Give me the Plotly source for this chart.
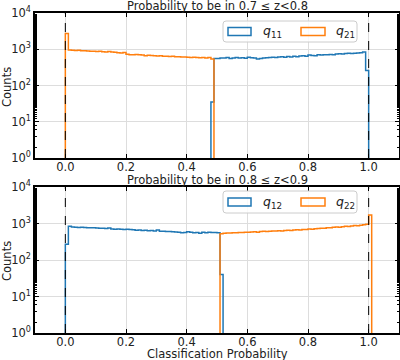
import plotly.graph_objects as go

# ---------------- data ----------------
BIN_W = 0.01
FLOOR = 0.1  # below the log axis range -> drawn off the bottom like empty bins

# top panel: 0.7 <= z < 0.8
q11_start = 0.48
q11 = [35,
       560, 555, 575, 570, 590, 560, 575, 595, 570, 580,
       565, 600, 585, 570, 540, 560, 575, 580, 590, 600,
       595, 610, 620, 605, 630, 615, 640, 620, 650, 660,
       640, 690, 670, 665, 700, 690, 710, 705, 720, 700,
       740, 750, 735, 760, 770, 765, 780, 790, 800, 840,
       260]
q21_start = 0.0
q21 = [2700, 950, 935, 925, 940, 915, 905, 900, 885, 875,
       865, 880, 855, 845, 870, 835, 820, 800, 785, 815,
       730, 700, 710, 715, 705, 690, 660, 680, 670, 665,
       655, 660, 640, 645, 635, 640, 620, 625, 610, 615,
       600, 595, 600, 590, 585, 595, 575, 590, 540]

# bottom panel: 0.8 <= z < 0.9
q12_start = 0.0
q12 = [270,
       840, 800, 790, 780, 790, 775, 770, 760, 765, 750,
       745, 740, 730, 750, 710, 700, 710, 695, 690, 700,
       680, 670, 650, 660, 640, 650, 630, 640, 620, 660,
       615, 610, 600, 605, 590, 585, 580, 560, 570, 590,
       575, 560, 570, 540, 580, 560, 575, 570, 565, 560,
       40]
q22_start = 0.51
q22 = [520, 540, 545, 550, 560, 555, 570, 565, 580, 575,
       585, 590, 580, 600, 610, 605, 615, 620, 625, 630,
       620, 640, 650, 645, 660, 670, 665, 680, 690, 710,
       700, 720, 730, 745, 740, 760, 770, 790, 800, 790,
       820, 840, 830, 860, 880, 870, 900, 920, 960,
       1700]

x_ticks = [0.0, 0.2, 0.4, 0.6, 0.8, 1.0]
x_ticklabels = ["0.0", "0.2", "0.4", "0.6", "0.8", "1.0"]
y_ticks = [1, 10, 100, 1000, 10000]
y_ticklabels = ["10<sup>0</sup>", "10<sup>1</sup>", "10<sup>2</sup>",
                "10<sup>3</sup>", "10<sup>4</sup>"]
vlines = [0.0, 1.0]

titles = ["Probability to be in 0.7 \u2264 z<0.8", "Probability to be in 0.8 \u2264 z<0.9"]
legend_top = ["<i>q</i><sub>11</sub>", "<i>q</i><sub>21</sub>"]
legend_bot = ["<i>q</i><sub>12</sub>", "<i>q</i><sub>22</sub>"]

BLUE = "#1f77b4"
ORANGE = "#ff7f0e"
FONT = "DejaVu Sans"
FS = 11.5

# ---------------- helpers ----------------
def step_xy(start, vals):
    n = len(vals)
    edges = [round(start + i * BIN_W, 6) for i in range(n + 1)]
    x = [edges[0]] + edges[:n] + [edges[n]]
    y = [FLOOR] + list(vals) + [FLOOR]
    return x, y

# pixel geometry
L, R, T, B = 35, 399, 13, 333
W, H = R - L, B - T
def px(xp):
    return (xp - L) / W
def py(yp):
    return (B - yp) / H

def rounded_rect_path(x0, y0, x1, y1, r):
    pts = [
        f"M {px(x0 + r)},{py(y0)}",
        f"L {px(x1 - r)},{py(y0)}",
        f"Q {px(x1)},{py(y0)} {px(x1)},{py(y0 + r)}",
        f"L {px(x1)},{py(y1 - r)}",
        f"Q {px(x1)},{py(y1)} {px(x1 - r)},{py(y1)}",
        f"L {px(x0 + r)},{py(y1)}",
        f"Q {px(x0)},{py(y1)} {px(x0)},{py(y1 - r)}",
        f"L {px(x0)},{py(y0 + r)}",
        f"Q {px(x0)},{py(y0)} {px(x0 + r)},{py(y0)} Z",
    ]
    return " ".join(pts)

fig = go.Figure()

for start, vals, color, xa, ya in [
    (q11_start, q11, BLUE, "x", "y"),
    (q21_start, q21, ORANGE, "x", "y"),
    (q12_start, q12, BLUE, "x2", "y2"),
    (q22_start, q22, ORANGE, "x2", "y2"),
]:
    x, y = step_xy(start, vals)
    fig.add_trace(go.Scatter(x=x, y=y, mode="lines", line=dict(color=color, width=1.5, shape="hv"),
                             xaxis=xa, yaxis=ya, showlegend=False, hoverinfo="skip"))

axis_common = dict(showline=True, linecolor="black", linewidth=1.6, mirror="allticks",
                   ticks="inside", ticklen=4, tickwidth=1, tickcolor="black",
                   showgrid=True, gridcolor="#dddddd", gridwidth=1, zeroline=False,
                   automargin=False,
                   tickfont=dict(family=FONT, size=FS, color="#222"))

xcfg = dict(axis_common, range=[-0.1, 1.1], tickvals=x_ticks, ticktext=x_ticklabels,
            ticklabelstandoff=-3)
ycfg = dict(axis_common, type="log", range=[0, 4], tickvals=y_ticks, ticktext=y_ticklabels,
            minor=dict(ticks="inside", ticklen=2, tickcolor="black", showgrid=False))

top_bottom = py(158)
bot_top = py(187)

fig.update_layout(
    width=400, height=360,
    margin=dict(l=L, r=400 - R, t=T, b=360 - B, autoexpand=False),
    paper_bgcolor="white", plot_bgcolor="white",
    font=dict(family=FONT, size=FS, color="#222"),
    xaxis=dict(xcfg, domain=[0, 1], anchor="y"),
    yaxis=dict(ycfg, domain=[top_bottom, 1], anchor="x"),
    xaxis2=dict(xcfg, domain=[0, 1], anchor="y2"),
    yaxis2=dict(ycfg, domain=[0, bot_top], anchor="x2"),
    showlegend=False,
)

shapes = []
for v in vlines:
    for xa, ya in [("x", "y"), ("x2", "y2")]:
        shapes.append(dict(type="line", xref=xa, yref=ya + " domain", x0=v, x1=v, y0=0, y1=1,
                           line=dict(color="black", width=1, dash="dash")))

annotations = []
annotations.append(dict(text=titles[0], x=0.5, y=py(6), xref="paper", yref="paper",
                        showarrow=False, font=dict(size=FS), xanchor="center", yanchor="middle"))
annotations.append(dict(text=titles[1], x=0.5, y=py(180), xref="paper", yref="paper",
                        showarrow=False, font=dict(size=FS), xanchor="center", yanchor="middle"))
for yc in [87, 261]:
    annotations.append(dict(text="Counts", x=px(7), y=py(yc), xref="paper", yref="paper",
                            showarrow=False, textangle=-90, font=dict(size=FS),
                            xanchor="center", yanchor="middle"))
annotations.append(dict(text="Classification Probability", x=0.5, y=py(353.5), xref="paper",
                        yref="paper", showarrow=False, font=dict(size=FS),
                        xanchor="center", yanchor="middle"))

for (box_t, box_b), labels in [((21, 42), legend_top), ((191, 213), legend_bot)]:
    shapes.append(dict(type="path", xref="paper", yref="paper",
                       path=rounded_rect_path(223, box_t, 357, box_b, 3),
                       fillcolor="rgba(255,255,255,0.85)", line=dict(color="#cccccc", width=1)))
    cy = (box_t + box_b) / 2
    for (p0, p1, tx), color, lab in zip([(228, 251, 261), (301, 325, 334)], [BLUE, ORANGE], labels):
        shapes.append(dict(type="rect", xref="paper", yref="paper",
                           x0=px(p0), x1=px(p1), y0=py(cy + 4), y1=py(cy - 4),
                           fillcolor="rgba(0,0,0,0)", line=dict(color=color, width=1.5)))
        annotations.append(dict(text=lab, x=px(tx), y=py(cy), xref="paper", yref="paper",
                                showarrow=False, xanchor="left", yanchor="middle",
                                font=dict(size=12.5)))

fig.update_layout(shapes=shapes, annotations=annotations)
fig.write_html("out.html", config={"displayModeBar": False},
               post_script="document.body.style.margin='0';")
